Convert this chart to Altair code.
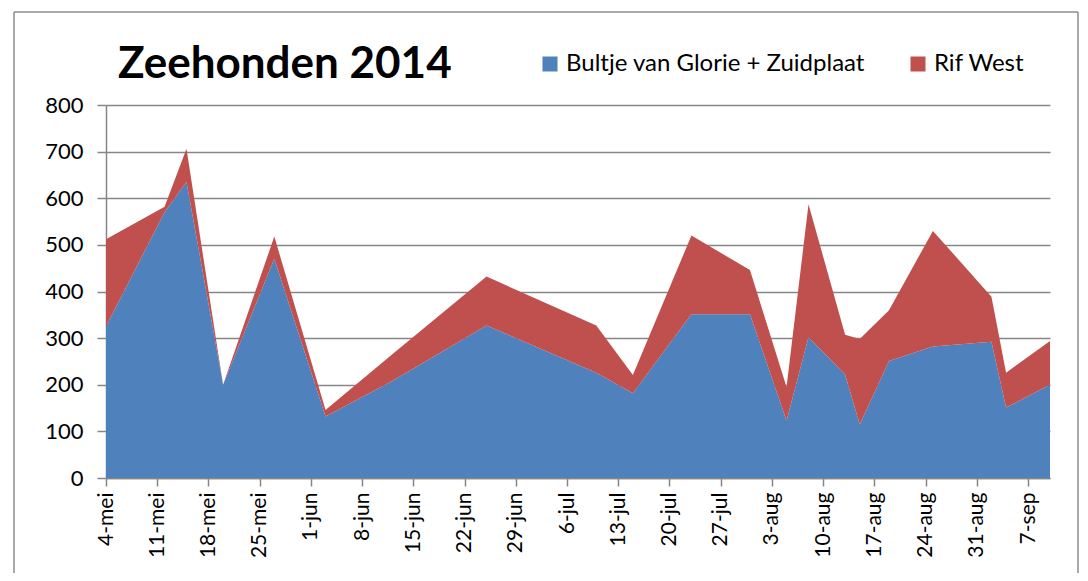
import json
import altair as alt
import pandas as pd

TITLE = "Zeehonden 2014"
series_names = ["Bultje van Glorie + Zuidplaat", "Rif West"]
series_colors = ["#4F81BD", "#C0504D"]

dates = ["2014-05-04", "2014-05-12", "2014-05-15", "2014-05-20", "2014-05-27",
         "2014-06-03", "2014-06-12", "2014-06-25", "2014-07-10", "2014-07-15",
         "2014-07-23", "2014-07-31", "2014-08-05", "2014-08-08", "2014-08-13",
         "2014-08-15", "2014-08-19", "2014-08-25", "2014-09-02", "2014-09-04",
         "2014-09-10"]
bultje = [325, 570, 635, 200, 470, 132, 207, 327, 226, 182,
          351, 351, 123, 302, 222, 115, 251, 282, 292, 151, 200]
rif_west = [187, 12, 71, 0, 48, 14, 57, 105, 101, 39,
            169, 95, 72, 285, 85, 183, 109, 248, 97, 75, 94]

tick_dates = ["2014-05-04", "2014-05-11", "2014-05-18", "2014-05-25", "2014-06-01",
              "2014-06-08", "2014-06-15", "2014-06-22", "2014-06-29", "2014-07-06",
              "2014-07-13", "2014-07-20", "2014-07-27", "2014-08-03", "2014-08-10",
              "2014-08-17", "2014-08-24", "2014-08-31", "2014-09-07"]
month_names = ["jan", "feb", "mrt", "apr", "mei", "jun", "jul", "aug", "sep", "okt", "nov", "dec"]
y_ticks = [0, 100, 200, 300, 400, 500, 600, 700, 800]

rows = []
for d, b, r in zip(dates, bultje, rif_west):
    rows.append({"dag": d, "serie": series_names[0], "aantal": b, "volgorde": 0})
    rows.append({"dag": d, "serie": series_names[1], "aantal": r, "volgorde": 1})
df = pd.DataFrame(rows)


def ms(s):
    return int(pd.Timestamp(s, tz="UTC").value // 10**6)


tick_ms = [ms(t) for t in tick_dates]
x_domain = [ms(dates[0]), ms(dates[-1])]
label_expr = "utcdate(datum.value) + '-' + " + json.dumps(month_names) + "[utcmonth(datum.value)]"

FONT = "Lato"
GRAY = "#868686"

W, H = 944, 373

areas = alt.Chart(df).mark_area(interpolate="linear").encode(
    x=alt.X("dag:T",
            scale=alt.Scale(type="utc", domain=x_domain, nice=False, padding=0),
            axis=alt.Axis(values=tick_ms, labelExpr=label_expr, labelAngle=270,
                          labelFontSize=21, labelFont=FONT, labelColor="#000000",
                          tickSize=8, tickColor=GRAY, tickWidth=1.5,
                          domainColor=GRAY, domainWidth=1.5, grid=False,
                          labelPadding=6, title=None, labelOverlap=False)),
    y=alt.Y("aantal:Q", stack="zero",
            scale=alt.Scale(domain=[0, 800], nice=False),
            axis=alt.Axis(values=y_ticks, grid=True, gridColor=GRAY, gridWidth=1.4,
                          tickSize=9, tickColor=GRAY, tickWidth=1.5,
                          domainColor=GRAY, domainWidth=1.5,
                          labelFontSize=22, labelFont=FONT, labelColor="#000000",
                          labelPadding=14, title=None)),
    color=alt.Color("serie:N",
                    scale=alt.Scale(domain=series_names, range=series_colors),
                    legend=alt.Legend(title=None, orient="none", legendX=432, legendY=-53,
                                      direction="horizontal", symbolType="square",
                                      symbolSize=225, symbolStrokeWidth=0,
                                      labelFontSize=24, labelFont=FONT, labelColor="#000000",
                                      labelLimit=0, columnPadding=40, labelOffset=4)),
    order=alt.Order("volgorde:Q"),
)

title_mark = alt.Chart(pd.DataFrame({"t": [TITLE]})).mark_text(
    font=FONT, fontSize=44, fontWeight="bold", color="#000000",
    align="left", baseline="alphabetic"
).encode(x=alt.value(12), y=alt.value(-27), text="t:N")

blank = alt.Data(values=[{"k": 1}])
frame_kw = dict(color="#8c8c8c", strokeWidth=1.5)
frame_top = alt.Chart(blank).mark_rule(**frame_kw).encode(
    x=alt.value(-92), x2=alt.value(972), y=alt.value(-93))
frame_left = alt.Chart(blank).mark_rule(**frame_kw).encode(
    x=alt.value(-92), y=alt.value(-93), y2=alt.value(H + 95))
frame_right = alt.Chart(blank).mark_rule(**frame_kw).encode(
    x=alt.value(972), y=alt.value(-93), y2=alt.value(H + 95))

chart = alt.layer(areas, title_mark, frame_top, frame_left, frame_right).properties(
    width=W, height=H,
    autosize=alt.AutoSizeParams(type="none"),
    padding={"left": 98, "top": 97, "right": 30, "bottom": 95},
    background="#ffffff",
).configure_view(stroke=None)

chart.save("out.html", embed_options={"renderer": "svg", "actions": False})
